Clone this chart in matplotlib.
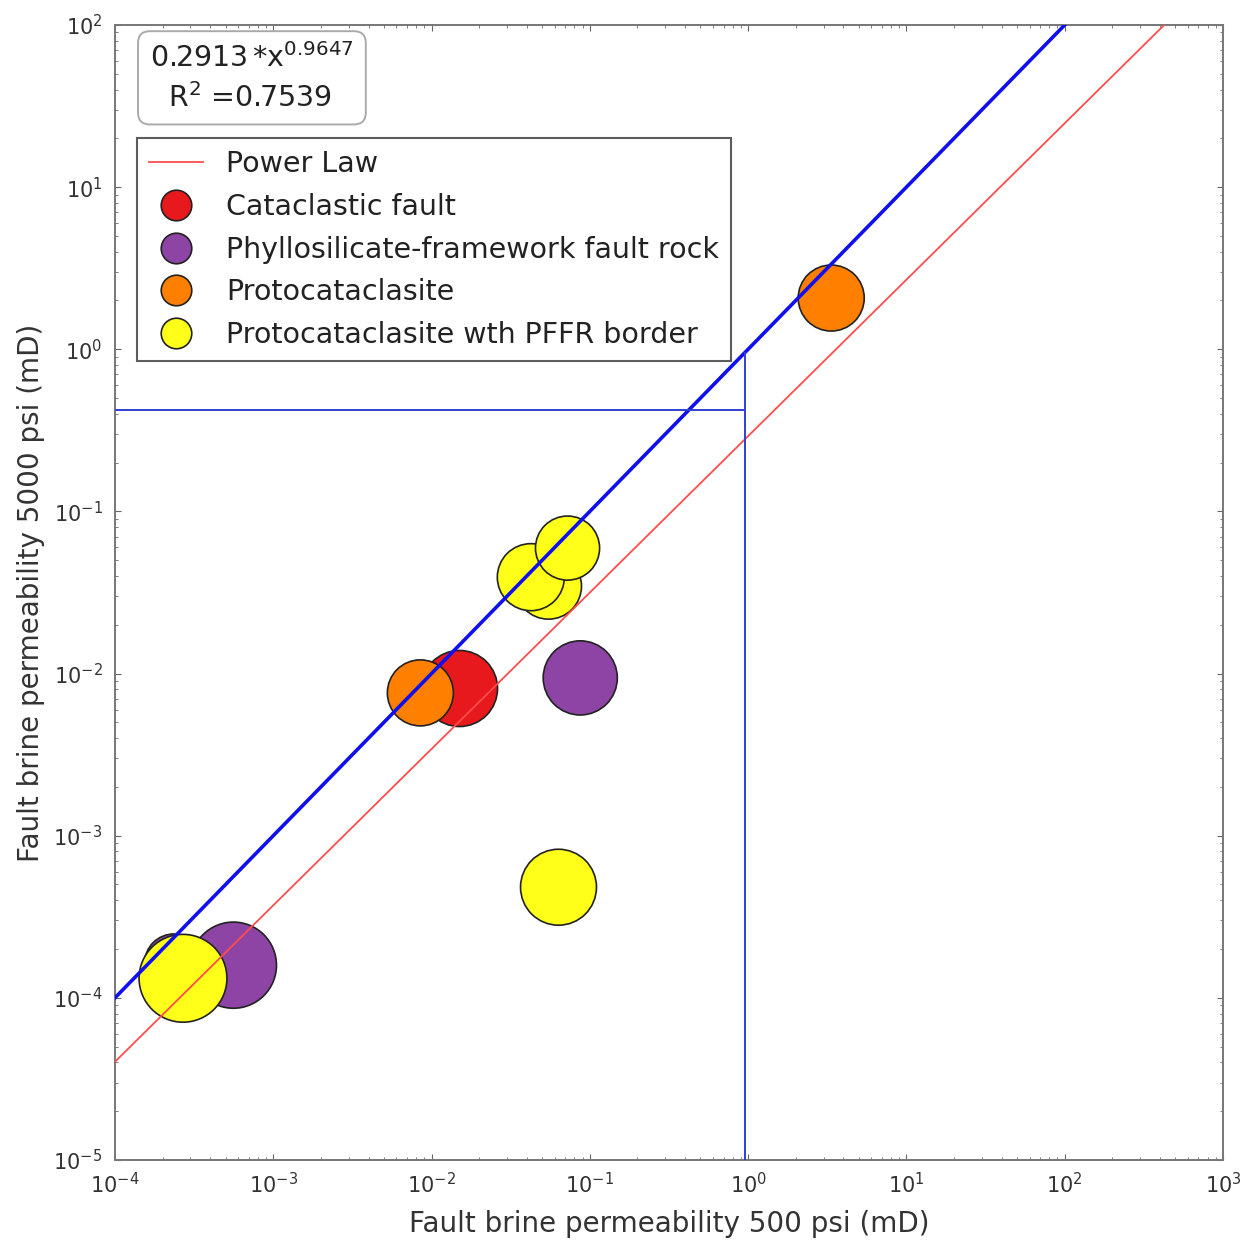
import numpy as np
import matplotlib
matplotlib.use("Agg")
import matplotlib.pyplot as plt
from matplotlib.lines import Line2D
from matplotlib.ticker import FixedLocator, LogLocator, NullFormatter, LogFormatterSciNotation

# Permeability measurements (mD) at 500 psi (x) and 5000 psi (y) confining pressure
categories = [
    "Cataclastic fault",
    "Phyllosilicate-framework fault rock",
    "Protocataclasite",
    "Protocataclasite wth PFFR border",
]
colors = ["#e8191c", "#8e44a4", "#ff7f00", "#ffff19"]

cataclastic_x = [0.0150]
cataclastic_y = [0.0081]
cataclastic_s = [3000]

phyllo_x = [2.36e-4, 5.6e-4, 0.087]
phyllo_y = [1.63e-4, 1.59e-4, 0.0094]
phyllo_s = [1800, 3850, 2850]

proto_x = [0.0085, 3.35]
proto_y = [0.0076, 2.07]
proto_s = [2260, 2260]

pffr_x = [0.0548, 0.0424, 0.0723, 0.0634, 2.69e-4]
pffr_y = [0.0346, 0.0393, 0.0594, 4.81e-4, 1.32e-4]
pffr_s = [2260, 2330, 2130, 2990, 4000]

# Power-law fit y = a * x^b
fit_a = 0.2913
fit_b = 0.9647
fit_r2 = 0.7539

# Reference lines: 1:1 line and the read-off at x = 0.95 mD
one_to_one = [1e-4, 1e2]
cut_x = 0.95
cut_y = 0.42

xlim = (1e-4, 1e3)
ylim = (1e-5, 1e2)
x_decades = [1e-4, 1e-3, 1e-2, 1e-1, 1e0, 1e1, 1e2, 1e3]
y_decades = [1e-5, 1e-4, 1e-3, 1e-2, 1e-1, 1e0, 1e1, 1e2]

fig = plt.figure(figsize=(12.51, 12.43), dpi=100, facecolor="white")
ax = fig.add_axes([0.0919, 0.0668, 0.8857, 0.9131])
ax.set_xscale("log")
ax.set_yscale("log")
ax.set_xlim(*xlim)
ax.set_ylim(*ylim)

groups = [
    (cataclastic_x, cataclastic_y, cataclastic_s),
    (phyllo_x, phyllo_y, phyllo_s),
    (proto_x, proto_y, proto_s),
    (pffr_x, pffr_y, pffr_s),
]
for (gx, gy, gs), col in zip(groups, colors):
    ax.scatter(gx, gy, s=gs, c=col, edgecolors="#222222", linewidths=1.2, zorder=2)

xf = np.logspace(-4, 3, 200)
ax.plot(xf, fit_a * xf ** fit_b, color="#ff4d4d", lw=1.3, zorder=3)
ax.plot(one_to_one, one_to_one, color="#1010ee", lw=2.6, zorder=3)
ax.plot([xlim[0], cut_x], [cut_y, cut_y], color="#3040d0", lw=1.4, zorder=3)
ax.plot([cut_x, cut_x], [ylim[0], 0.95], color="#3040d0", lw=1.4, zorder=3)

ax.xaxis.set_major_locator(FixedLocator(x_decades))
ax.yaxis.set_major_locator(FixedLocator(y_decades))
ax.xaxis.set_major_formatter(LogFormatterSciNotation())
ax.yaxis.set_major_formatter(LogFormatterSciNotation())
ax.xaxis.set_minor_locator(LogLocator(base=10, subs=np.arange(2, 10), numticks=20))
ax.yaxis.set_minor_locator(LogLocator(base=10, subs=np.arange(2, 10), numticks=20))
ax.xaxis.set_minor_formatter(NullFormatter())
ax.yaxis.set_minor_formatter(NullFormatter())
ax.tick_params(which="both", direction="in", top=True, right=True, colors="#666666",
               labelcolor="#333333")
ax.tick_params(which="major", length=4.5, labelsize=15)
ax.tick_params(axis="x", which="major", pad=9)
ax.tick_params(axis="y", which="major", pad=9)
ax.tick_params(which="minor", length=2.2)
for sp in ax.spines.values():
    sp.set_color("#777777")
    sp.set_linewidth(1.4)

ax.set_xlabel("Fault brine permeability 500 psi (mD)", fontsize=20, color="#333333",
              labelpad=9)
ax.set_ylabel("Fault brine permeability 5000 psi (mD)", fontsize=20, color="#333333",
              labelpad=6)

ax.text(0.0316, 0.984,
        "%.4f$\\,$*x$^{%.4f}$\n  R$^2$ =%.4f" % (fit_a, fit_b, fit_r2),
        transform=ax.transAxes, fontsize=20.5, color="#222222", va="top", ha="left",
        linespacing=1.4,
        bbox=dict(boxstyle="round,pad=0.42", fc="white", ec="#aaaaaa", lw=1.4))

# Fixed-size legend handles
leg_handles = [Line2D([], [], color="#ff4d4d", lw=1.3)]
for col in colors:
    leg_handles.append(Line2D([], [], ls="none", marker="o", markersize=22,
                              markerfacecolor=col, markeredgecolor="#222222",
                              markeredgewidth=1.2))

leg = ax.legend(handles=leg_handles, labels=["Power Law"] + categories,
                loc="upper left", bbox_to_anchor=(0.0195, 0.9004), fontsize=20.5,
                frameon=True, fancybox=False, borderpad=0.42, borderaxespad=0,
                labelspacing=0.52, handlelength=1.9, handletextpad=0.82)
leg.get_frame().set_edgecolor("#333333")
leg.get_frame().set_linewidth(1.5)
for t in leg.get_texts():
    t.set_color("#222222")

fig.savefig("out.png", dpi=100, facecolor="white")
